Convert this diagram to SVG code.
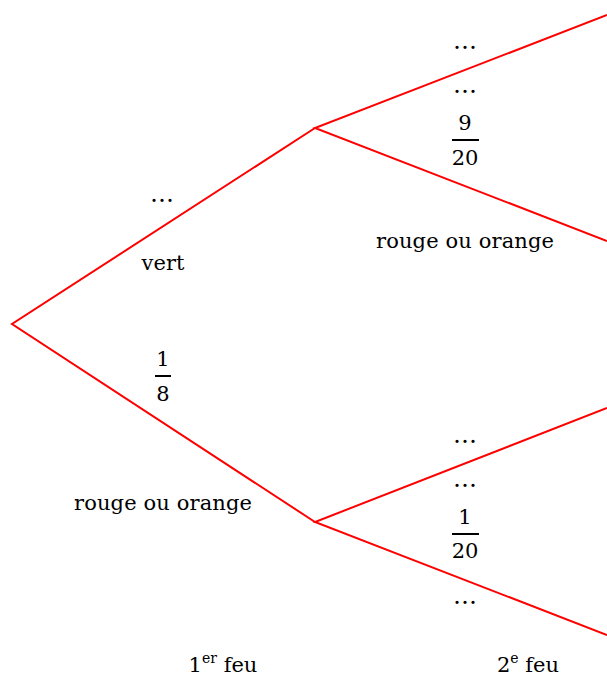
<svg xmlns="http://www.w3.org/2000/svg" width="607" height="677" viewBox="0 0 607 677">
<style>
  .br { stroke: #ff0000; stroke-width: 2; fill: none; stroke-linejoin: miter; }
  text { font-family: "DejaVu Serif", "Liberation Serif", serif; font-size: 21px; fill: #000; text-anchor: middle; }
  .dots { font-size: 24px; }
  .bar { stroke: #000; stroke-width: 2; }
  .sup { font-size: 14px; }
</style>
<rect width="607" height="677" fill="#fff"/>
<g id="connectors">
  <polyline class="br" points="315,128 12,324 315,522"/>
  <polyline class="br" points="607,15 315,128 607,241"/>
  <polyline class="br" points="607,408 315,522 607,635"/>
</g>
<g id="branch-vert">
  <text class="dots" x="162" y="202">…</text>
  <text x="163" y="270">vert</text>
</g>
<g id="branch-rouge1">
  <text x="163" y="366">1</text>
  <line class="bar" x1="155" y1="376" x2="171" y2="376"/>
  <text x="163" y="401">8</text>
  <text x="163" y="510" textLength="178" lengthAdjust="spacing">rouge ou orange</text>
</g>
<g id="branch-vv">
  <text class="dots" x="465" y="49">…</text>
  <text class="dots" x="465" y="93">…</text>
</g>
<g id="branch-vr">
  <text x="465" y="130">9</text>
  <line class="bar" x1="452" y1="140" x2="479" y2="140"/>
  <text x="465" y="165">20</text>
  <text x="465" y="248" textLength="178" lengthAdjust="spacing">rouge ou orange</text>
</g>
<g id="branch-rv">
  <text class="dots" x="465" y="443">…</text>
  <text class="dots" x="465" y="487">…</text>
</g>
<g id="branch-rr">
  <text x="465" y="524">1</text>
  <line class="bar" x1="452" y1="534" x2="479" y2="534"/>
  <text x="465" y="558">20</text>
  <text class="dots" x="465" y="604">…</text>
</g>
<g id="header-1">
  <text x="223" y="672">1<tspan class="sup" dy="-9">er</tspan><tspan dy="9"> feu</tspan></text>
</g>
<g id="header-2">
  <text x="528" y="672">2<tspan class="sup" dy="-9">e</tspan><tspan dy="9"> feu</tspan></text>
</g>
</svg>
